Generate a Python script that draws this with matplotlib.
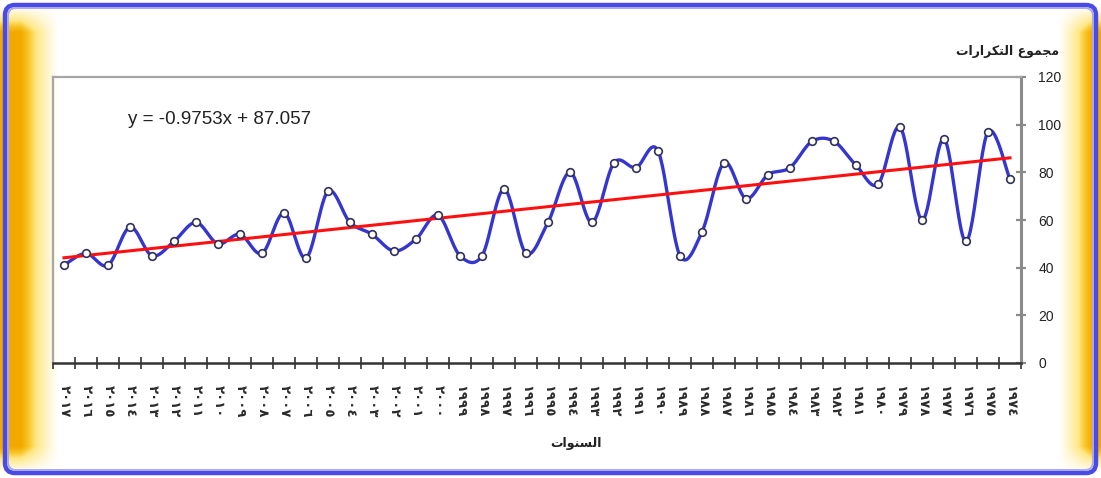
import numpy as np
import matplotlib
matplotlib.use("Agg")
import matplotlib.pyplot as plt
from matplotlib.patches import FancyBboxPatch

# Annual totals, 1974-2017
years = list(range(1974, 2018))
totals = [77, 97, 51, 94, 60, 99, 75, 83, 93, 93,
          82, 79, 69, 84, 55, 45, 89, 82, 84, 59,
          80, 59, 46, 73, 45, 45, 62, 52, 47, 54,
          59, 72, 44, 63, 46, 54, 50, 59, 51, 45,
          57, 41, 46, 41]

# Linear trend (x = 1 for the first year)
trend_slope = -0.9753
trend_intercept = 87.057

y_ticks = [0, 20, 40, 60, 80, 100, 120]

# Arabic titles written as shaped presentation forms in visual order
y_title = "\uFE95\uFE8D\uFEAD\uFE8D\uFEAE\uFEDC\uFE98\uFEDF\uFE8D \uFEC9\uFEEE\uFEE4\uFEA0\uFEE3"  # مجموع التكرارات
x_title = "\uFE95\uFE8D\uFEEE\uFEE8\uFEB4\uFEDF\uFE8D"  # السنوات

AR_DIGITS = str.maketrans("0123456789", "٠١٢٣٤٥٦٧٨٩")
year_labels = [str(y).translate(AR_DIGITS) for y in years]

W, H = 1101, 478
fig = plt.figure(figsize=(W / 100, H / 100), dpi=100)

# ---- background: white card with golden side glow and blue rounded frame
bg = fig.add_axes([0, 0, 1, 1])
bg.set_xlim(0, W)
bg.set_ylim(H, 0)
bg.axis("off")

xx = np.arange(W)[None, :].astype(float)
yy = np.arange(H)[:, None].astype(float)
left_t = np.clip((58 - xx) / 38.0, 0, 1) ** 1.15
right_t = np.clip((xx - 1058) / 34.0, 0, 1) ** 1.15
glow = np.maximum(left_t, right_t)
vert = np.clip((yy - 6) / 26.0, 0, 1) * np.clip((H - 6 - yy) / 26.0, 0, 1)
glow = glow * vert
white = np.array([1.0, 1.0, 1.0])
gold = np.array([1.0, 0.83, 0.12])
orange = np.array([0.95, 0.66, 0.0])
g = glow[..., None]
col = white * (1 - g) + gold * g
deep = np.clip((glow - 0.55) / 0.45, 0, 1)[..., None]
col = col * (1 - deep) + orange * deep
bg.imshow(col, extent=(0, W, H, 0), aspect="auto", interpolation="bilinear", zorder=0)

frame_outer = FancyBboxPatch((5, 5), W - 10, H - 10,
                             boxstyle="round,pad=0,rounding_size=10",
                             fill=False, edgecolor="#4a4ae6", linewidth=3.2, zorder=2)
frame_inner = FancyBboxPatch((8, 8), W - 16, H - 16,
                             boxstyle="round,pad=0,rounding_size=8",
                             fill=False, edgecolor="#a8a8f4", linewidth=1.4, zorder=2)
bg.add_patch(frame_outer)
bg.add_patch(frame_inner)

# ---- main plot area
left_px, right_px, top_px, bottom_px = 53, 1021, 77, 363
ax = fig.add_axes([left_px / W, 1 - bottom_px / H,
                   (right_px - left_px) / W, (bottom_px - top_px) / H])
ax.set_facecolor("none")

x = np.arange(1, len(years) + 1, dtype=float)
y = np.array(totals, dtype=float)

# Smoothed line: cubic Bezier segments with Catmull-Rom style control points
px = np.concatenate([[x[0]], x, [x[-1]]])
py = np.concatenate([[y[0]], y, [y[-1]]])
sx, sy = [], []
tt = np.linspace(0, 1, 25)
for i in range(1, len(px) - 2):
    p0 = np.array([px[i], py[i]])
    p3 = np.array([px[i + 1], py[i + 1]])
    p1 = p0 + (np.array([px[i + 1], py[i + 1]]) - np.array([px[i - 1], py[i - 1]])) / 6.0
    p2 = p3 - (np.array([px[i + 2], py[i + 2]]) - np.array([px[i], py[i]])) / 6.0
    b = ((1 - tt) ** 3)[:, None] * p0 + (3 * (1 - tt) ** 2 * tt)[:, None] * p1 \
        + (3 * (1 - tt) * tt ** 2)[:, None] * p2 + (tt ** 3)[:, None] * p3
    sx.extend(b[:, 0])
    sy.extend(b[:, 1])

ax.plot(sx, sy, color="#3535d0", linewidth=2.4, zorder=3, solid_capstyle="round")

trend_x = np.array([x[0], x[-1]])
ax.plot(trend_x, trend_slope * trend_x + trend_intercept,
        color="#ff1010", linewidth=2.2, zorder=4)

ax.plot(x, y, linestyle="none", marker="o", markersize=5.5,
        markerfacecolor="#fffff0", markeredgecolor="#303060",
        markeredgewidth=1.2, zorder=5)

ax.set_xlim(len(years) + 0.5, 0.5)
ax.set_ylim(0, 120)

# x axis: labels at categories, cross ticks at category boundaries
ax.set_xticks(x)
ax.set_xticklabels(year_labels, rotation=270, fontsize=9.5, fontweight="bold",
                   family="DejaVu Sans", color="#2a2a2a")
ax.set_xticks(np.arange(0.5, len(years) + 1.0, 1.0), minor=True)
ax.tick_params(axis="x", which="major", length=0, pad=16)
ax.tick_params(axis="x", which="minor", direction="inout", length=8,
               width=1.2, color="#333333")

# y axis on the right
ax.yaxis.tick_right()
ax.set_yticks(y_ticks)
ax.set_yticklabels([str(v) for v in y_ticks], fontsize=10,
                   family="Liberation Sans", color="#222222")
ax.tick_params(axis="y", direction="inout", length=7, width=1.6,
               color="#8a8a8a", pad=9)

for side in ("left", "top"):
    ax.spines[side].set_color("#a6a6a6")
    ax.spines[side].set_linewidth(1.6)
ax.spines["right"].set_color("#8a8a8a")
ax.spines["right"].set_linewidth(2.2)
ax.spines["bottom"].set_color("#333333")
ax.spines["bottom"].set_linewidth(1.8)

fig.text(128 / W, 1 - 119 / H, "y = -0.9753x + 87.057", fontsize=13.5,
         family="Liberation Sans", color="#222222", va="center", ha="left")

fig.text(1008 / W, 1 - 52 / H, y_title, fontsize=9, fontweight="bold",
         family="DejaVu Sans", color="#222222", ha="center", va="center")
fig.text(576 / W, 1 - 444 / H, x_title, fontsize=9, fontweight="bold",
         family="DejaVu Sans", color="#222222", ha="center", va="center")

fig.savefig("out.png", dpi=100)
